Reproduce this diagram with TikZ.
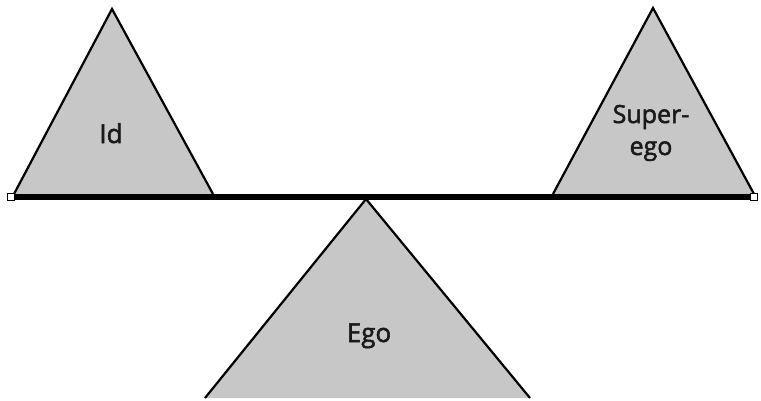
\documentclass[tikz,border=0pt]{standalone}
\usepackage{fontspec}
\setmainfont{Open Sans}
\newfontfamily\lblfont{Open Sans}[FakeBold=2]
\begin{document}
\begin{tikzpicture}[x=1pt,y=-1pt,
  tri/.style={draw=black,line width=2.2pt,fill=black!22,line join=miter},
  lbl/.style={font=\lblfont\fontsize{26}{32}\selectfont,align=center,text=black!90,inner sep=0pt},
  endsq/.style={draw=black,fill=white,line width=1pt,minimum size=7pt,inner sep=0pt}]
\useasboundingbox (0,0) rectangle (761,400);
% triangles
\coordinate (idA) at (112,9);
\coordinate (idL) at (14,194);
\coordinate (idR) at (213,194);
\draw[tri] (idL) -- (idA) -- (idR);
\coordinate (seA) at (653,8);
\coordinate (seL) at (553,194);
\coordinate (seR) at (754,194);
\draw[tri] (seL) -- (seA) -- (seR);
\coordinate (egA) at (366,199);
\coordinate (egL) at (205,398);
\coordinate (egR) at (530,398);
\draw[tri] (egL) -- (egA) -- (egR);
% beam
\coordinate (bL) at (11,197);
\coordinate (bR) at (754,197);
\draw[line width=6pt] (bL) -- (bR);
\node[endsq] (sqL) at (bL) {};
\node[endsq] (sqR) at (bR) {};
% labels
\node[lbl,anchor=base] (id) at (111,143) {Id};
\node[lbl,anchor=base,font=\lblfont\fontsize{25}{32}\selectfont] (se) at (651,155) {Super-\\ego};
\node[lbl,anchor=base] (ego) at (369,342) {Ego};
\end{tikzpicture}
\end{document}
